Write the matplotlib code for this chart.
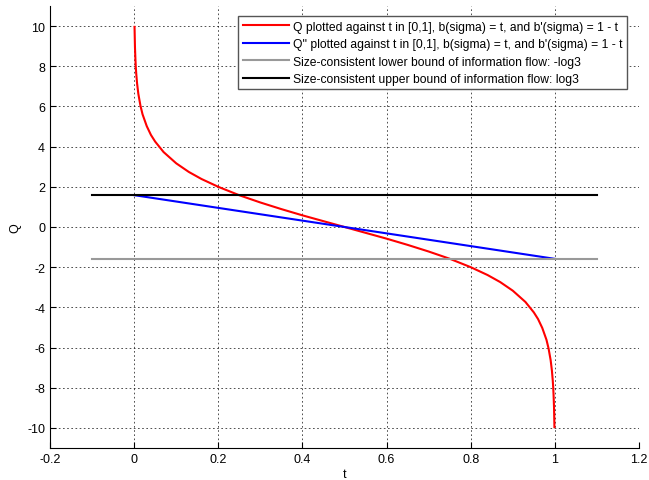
import matplotlib.pyplot as plt
import numpy as np

plt.rcParams['font.family'] = ['Liberation Sans', 'DejaVu Sans']
plt.rcParams['axes.unicode_minus'] = False

# curva Q
t_q = [0.001, 0.002, 0.003, 0.004, 0.005, 0.007, 0.01, 0.015, 0.02, 0.03, 0.04,
       0.05, 0.07, 0.1, 0.13, 0.16, 0.2, 0.25, 0.3, 0.35, 0.4, 0.45, 0.5,
       0.55, 0.6, 0.65, 0.7, 0.75, 0.8, 0.84, 0.87, 0.9, 0.93, 0.95, 0.96,
       0.97, 0.98, 0.985, 0.99, 0.993, 0.995, 0.996, 0.997, 0.998, 0.999]
q_vals = [9.96, 8.96, 8.38, 7.96, 7.64, 7.15, 6.63, 6.04, 5.61, 5.02, 4.58,
          4.25, 3.73, 3.17, 2.74, 2.39, 2.00, 1.58, 1.22, 0.89, 0.58, 0.29, 0.0,
          -0.29, -0.58, -0.89, -1.22, -1.58, -2.00, -2.39, -2.74, -3.17, -3.73, -4.25, -4.58,
          -5.02, -5.61, -6.04, -6.63, -7.15, -7.64, -7.96, -8.38, -8.96, -9.96]

# curva Q''
t_q2 = [0.0, 1.0]
q2_vals = [1.585, -1.585]

# cotas
t_cota = [-0.1, 1.1]
cota_inf = [-1.585, -1.585]
cota_sup = [1.585, 1.585]

etiquetas = ["Q plotted against t in [0,1], b(sigma) = t, and b'(sigma) = 1 - t",
             "Q'' plotted against t in [0,1], b(sigma) = t, and b'(sigma) = 1 - t",
             "Size-consistent lower bound of information flow: -log3",
             "Size-consistent upper bound of information flow: log3"]

fig = plt.figure(figsize=(6.49, 4.81), dpi=100)
ax = fig.add_axes([0.077, 0.0665, 0.9076, 0.919])

ax.plot(t_q, q_vals, color='red', lw=1.5, label=etiquetas[0])
ax.plot(t_q2, q2_vals, color='blue', lw=1.5, label=etiquetas[1])
ax.plot(t_cota, cota_inf, color='#999999', lw=1.5, label=etiquetas[2])
ax.plot(t_cota, cota_sup, color='black', lw=1.5, label=etiquetas[3])

ax.set_xlim(-0.2, 1.2)
ax.set_ylim(-11, 11)
ax.set_xticks(np.arange(-0.2, 1.21, 0.2))
ax.set_xticklabels(['-0.2', '0', '0.2', '0.4', '0.6', '0.8', '1', '1.2'])
ax.set_yticks(np.arange(-10, 11, 2))
ax.tick_params(direction='in', length=4, labelsize=9)
ax.grid(True, color='black', linestyle=(0, (2, 3)), lw=0.6, alpha=0.8)
ax.spines['top'].set_visible(False)
ax.spines['right'].set_visible(False)
ax.set_xlabel('t', fontsize=9, labelpad=2)
ax.set_ylabel('Q', fontsize=9, labelpad=4)

leg = ax.legend(loc='upper right', fontsize=8.7, handlelength=3.8, handletextpad=0.4,
                fancybox=False, framealpha=1, edgecolor='#555555',
                borderpad=0.35, labelspacing=0.45, bbox_to_anchor=(0.99, 0.99))
leg.get_frame().set_linewidth(1.0)

plt.savefig('out.png')
